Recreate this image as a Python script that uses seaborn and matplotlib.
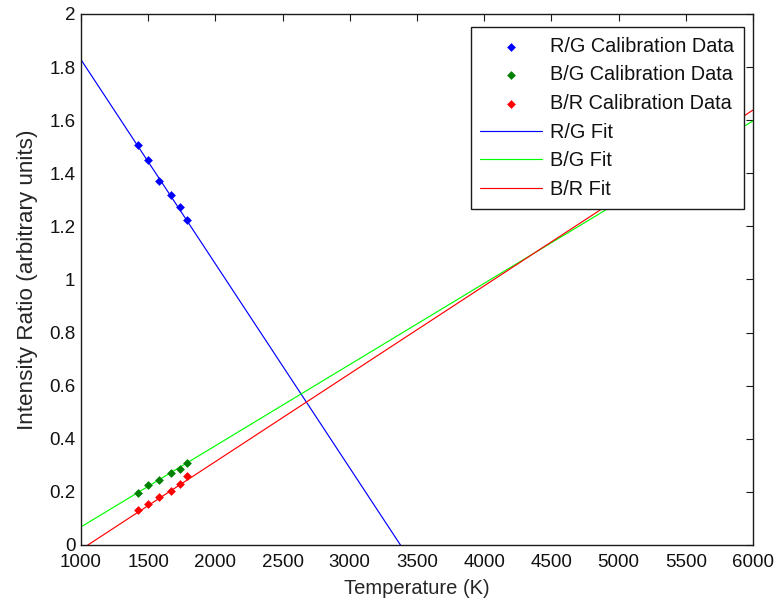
import numpy as np
import pandas as pd
import matplotlib
matplotlib.use("Agg")
import matplotlib.pyplot as plt
import seaborn as sns

# Calibration measurements
temperature = [1425, 1500, 1580, 1670, 1740, 1790]
rg_data = [1.505, 1.451, 1.370, 1.317, 1.272, 1.225]
bg_data = [0.195, 0.225, 0.245, 0.270, 0.287, 0.310]
br_data = [0.130, 0.155, 0.180, 0.205, 0.230, 0.260]

# Linear fits, evaluated at the ends of the temperature range
fit_temperature = [1000, 6000]
rg_fit = [1.828, -2.017]
bg_fit = [0.068, 1.597]
br_fit = [-0.017, 1.638]

xticks = list(range(1000, 6001, 500))
yticks = [0, 0.2, 0.4, 0.6, 0.8, 1, 1.2, 1.4, 1.6, 1.8, 2]
ytick_labels = ["0", "0.2", "0.4", "0.6", "0.8", "1", "1.2", "1.4", "1.6", "1.8", "2"]

sns.set_style("white")
plt.rcParams["font.family"] = ["Liberation Sans", "DejaVu Sans"]
plt.rcParams["font.size"] = 13.5
plt.rcParams["text.color"] = "#111111"

fig = plt.figure(figsize=(7.75, 6.03), dpi=100)
ax = fig.add_axes([0.1045, 0.0962, 0.867, 0.8806])

data = pd.DataFrame({"T": temperature, "rg": rg_data, "bg": bg_data, "br": br_data})
fits = pd.DataFrame({"T": fit_temperature, "rg": rg_fit, "bg": bg_fit, "br": br_fit})

marker_kw = dict(marker="D", s=20, linewidth=0, ax=ax, zorder=3)
sns.scatterplot(data=data, x="T", y="rg", color="#0000ff", label="R/G Calibration Data", **marker_kw)
sns.scatterplot(data=data, x="T", y="bg", color="#008000", label="B/G Calibration Data", **marker_kw)
sns.scatterplot(data=data, x="T", y="br", color="#ff0000", label="B/R Calibration Data", **marker_kw)

line_kw = dict(linewidth=0.85, ax=ax, zorder=2)
sns.lineplot(data=fits, x="T", y="rg", color="#0000ff", label="R/G Fit", **line_kw)
sns.lineplot(data=fits, x="T", y="bg", color="#00ff00", label="B/G Fit", **line_kw)
sns.lineplot(data=fits, x="T", y="br", color="#ff0000", label="B/R Fit", **line_kw)

ax.set_xlim(1000, 6000)
ax.set_ylim(0, 2)
ax.set_xticks(xticks)
ax.set_yticks(yticks)
ax.set_yticklabels(ytick_labels)
ax.set_xlabel("Temperature (K)", fontsize=14.5, labelpad=6)
ax.set_ylabel("Intensity Ratio (arbitrary units)", fontsize=16.2, labelpad=8)

for side in ax.spines.values():
    side.set_color("#1a1a1a")
    side.set_linewidth(1.0)
ax.tick_params(direction="in", length=5, width=0.8, color="#1a1a1a",
               labelcolor="#111111", top=True, right=True, labelsize=13.5, pad=4)
ax.tick_params(axis="x", pad=6.5)

leg = ax.legend(loc="upper right", bbox_to_anchor=(0.9866, 0.9755), frameon=True,
                fancybox=False, framealpha=1, edgecolor="#1a1a1a", fontsize=14.3,
                handlelength=3.1, handletextpad=0.4, labelspacing=0.48,
                borderpad=0.5, borderaxespad=0, markerscale=1.0)
leg.get_frame().set_linewidth(1.0)

fig.savefig("out.png", dpi=100, facecolor="white")
